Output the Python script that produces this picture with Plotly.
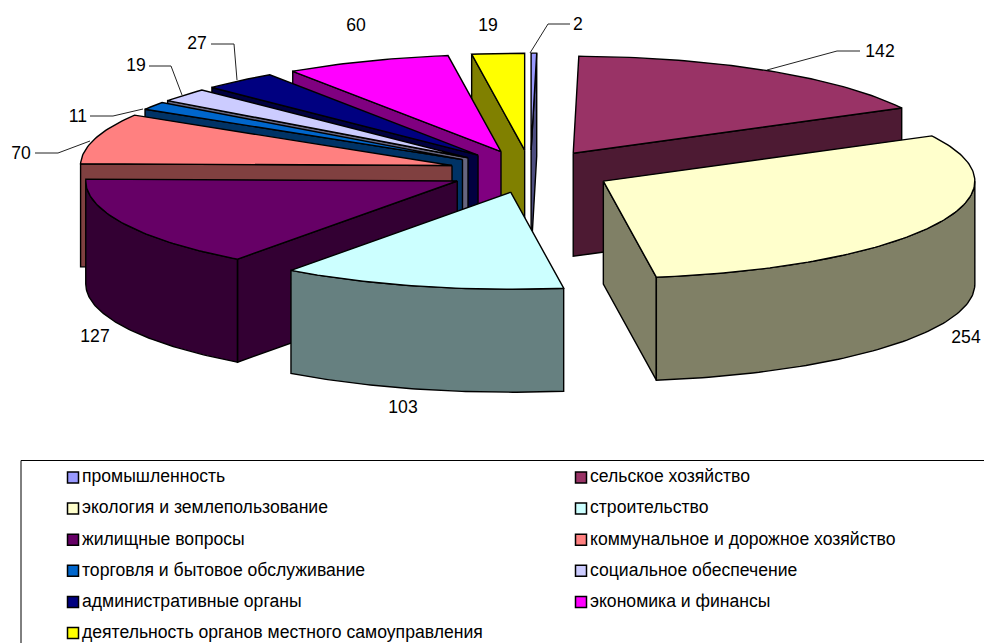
import numpy as np
import plotly.graph_objects as go

categories = ["промышленность", "сельское хозяйство", "экология и землепользование",
              "строительство", "жилищные вопросы", "коммунальное и дорожное хозяйство",
              "торговля и бытовое обслуживание", "социальное обеспечение",
              "административные органы", "экономика и финансы",
              "деятельность органов местного самоуправления"]
values = [2, 142, 254, 103, 127, 70, 11, 19, 27, 60, 19]
top_colors = ["#9999FF", "#993366", "#FFFFCC", "#CCFFFF", "#660066", "#FF8080",
              "#0066CC", "#CCCCFF", "#000080", "#FF00FF", "#FFFF00"]
wall_colors = ["#4D4D80", "#4D1A33", "#808066", "#668080", "#330033", "#804040",
               "#003366", "#666680", "#000040", "#800080", "#808000"]

# Projection of the tilted pie (pixels of the figure)
CX, CY, RX, RY, DEPTH, PULL = 530.5, 171.5, 371.5, 97.0, 103.0, 0.22
OUTLINE = 1.4
FONT = "Liberation Sans, Arial, sans-serif"
FONT_SIZE = 17.6

# Label anchors: text centre, then the leader polyline if there is one
label_xy = [(578, 26), (880, 53), (966, 339), (403, 409), (95, 338), (21, 155),
            (78, 118), (136, 67), (197, 45), (356, 27), (488, 27)]
leaders = {0: [(570, 24), (548, 24), (530, 53)],
           1: [(860, 51), (837, 51), (767, 70)],
           5: [(35, 153), (58, 153), (90, 141)],
           6: [(90, 116), (113, 116), (143, 109)],
           7: [(149, 66), (171, 66), (182, 95)],
           8: [(211, 44), (234, 44), (237, 80)]}

vals = np.array(values, float)
edges = np.concatenate([[0], np.cumsum(vals)]) / vals.sum() * 2 * np.pi


def pt(t, ox, oy):
    return ox + RX * np.sin(t), oy - RY * np.cos(t)


fig = go.Figure()
mids = (edges[:-1] + edges[1:]) / 2
for i in sorted(range(len(values)), key=lambda k: -np.cos(mids[k])):
    a, b, m = edges[i], edges[i + 1], mids[i]
    ox = CX + PULL * RX * np.sin(m)
    oy = CY - PULL * RY * np.cos(m)
    wx, wy = [], []

    def wall(xs, ys):
        xs, ys = list(xs), list(ys)
        wx.extend(xs + [v for v in xs[::-1]] + [xs[0], None])
        wy.extend(ys + [v + DEPTH for v in ys[::-1]] + [ys[0], None])

    # Radial cut faces that look towards the viewer
    if np.sin(a) < 0:
        x1, y1 = pt(a, ox, oy)
        wall([ox, x1], [oy, y1])
    if np.sin(b) > 0:
        x1, y1 = pt(b, ox, oy)
        wall([ox, x1], [oy, y1])
    # Visible part of the outer rim
    lo, hi = max(a, np.pi / 2), min(b, 1.5 * np.pi)
    if hi > lo:
        ts = np.linspace(lo, hi, 80)
        xs, ys = pt(ts, ox, oy)
        wall(xs, ys)
    if wx:
        fig.add_trace(go.Scatter(x=wx, y=wy, mode="lines", fill="toself",
                                 fillcolor=wall_colors[i],
                                 line=dict(color="black", width=OUTLINE),
                                 hoverinfo="skip", showlegend=False))
    ts = np.linspace(a, b, max(4, int((b - a) * 60)))
    xs, ys = pt(ts, ox, oy)
    fig.add_trace(go.Scatter(x=[ox, *xs, ox], y=[oy, *ys, oy], mode="lines",
                             fill="toself", fillcolor=top_colors[i],
                             line=dict(color="black", width=OUTLINE),
                             name=categories[i], text=str(values[i]),
                             hoverinfo="name+text", showlegend=False))

# Leader lines
for path in leaders.values():
    fig.add_trace(go.Scatter(x=[p[0] for p in path], y=[p[1] for p in path],
                             mode="lines", line=dict(color="#222222", width=1),
                             hoverinfo="skip", showlegend=False))

# Value labels
fig.add_trace(go.Scatter(x=[p[0] for p in label_xy], y=[p[1] for p in label_xy],
                         mode="text", text=[str(v) for v in values],
                         textposition="middle center",
                         textfont=dict(family=FONT, size=FONT_SIZE, color="black"),
                         hoverinfo="skip", showlegend=False))

# Legend, filled row by row in two columns
col_x = [73, 581]
row_y0, row_step = 477.5, 31.1
leg_x = [col_x[i % 2] for i in range(len(categories))]
leg_y = [row_y0 + row_step * (i // 2) for i in range(len(categories))]
fig.add_trace(go.Scatter(
    x=leg_x, y=leg_y, mode="markers",
    marker=dict(symbol="square", size=11, color=top_colors,
                line=dict(color="black", width=1.5)),
    hoverinfo="skip", showlegend=False))
fig.add_trace(go.Scatter(
    x=[v + 9 for v in leg_x], y=[v + 0.5 for v in leg_y],
    mode="text", text=categories, textposition="middle right", cliponaxis=False,
    textfont=dict(family=FONT, size=FONT_SIZE, color="black"),
    hoverinfo="skip", showlegend=False))

fig.add_shape(type="rect", x0=21, x1=1000, y0=460.5, y1=680,
              line=dict(color="black", width=1), layer="below")

fig.update_layout(
    width=984, height=643, autosize=False,
    margin=dict(l=0, r=0, t=0, b=0),
    paper_bgcolor="white", plot_bgcolor="white", showlegend=False,
    xaxis=dict(range=[0, 984], visible=False, fixedrange=True),
    yaxis=dict(range=[643, 0], visible=False, fixedrange=True),
)
fig.write_html("out.html", config=dict(displayModeBar=False),
               post_script="document.body.style.margin='0';")
